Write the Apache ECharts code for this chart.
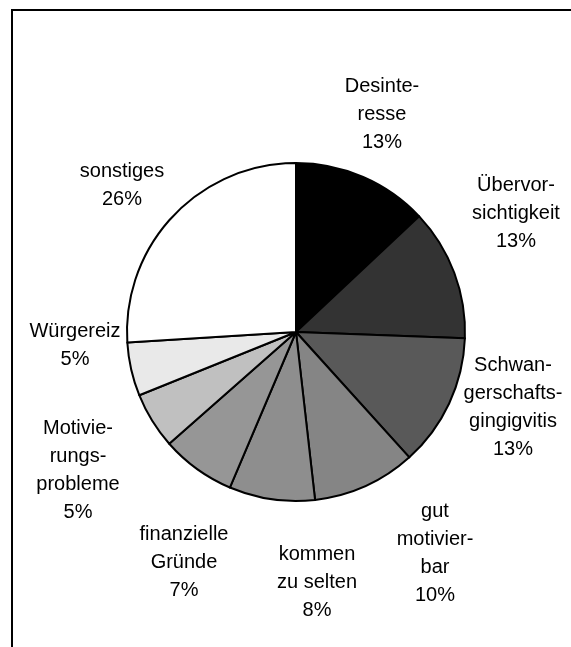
<!DOCTYPE html>
<html>
<head>
<meta charset="utf-8">
<script src="https://cdn.jsdelivr.net/npm/echarts@6/dist/echarts.min.js"></script>
<style>
  html, body { margin: 0; padding: 0; background: #fff; overflow: hidden; }
  #frame { position: absolute; left: 11px; top: 9px; width: 600px; height: 700px; border: 2px solid #000; }
  #chart { position: absolute; left: 0; top: 0; width: 571px; height: 647px; }
</style>
</head>
<body>
<div id="frame"></div>
<div id="chart"></div>
<script>
// Gründe, ab 12 Uhr im Uhrzeigersinn
const categories = [
  'Desinte-\nresse',
  'Übervor-\nsichtigkeit',
  'Schwan-\ngerschafts-\ngingigvitis',
  'gut\nmotivier-\nbar',
  'kommen\nzu selten',
  'finanzielle\nGründe',
  'Motivie-\nrungs-\nprobleme',
  'Würgereiz',
  'sonstiges'
]
const shares = [13.0, 12.6, 12.7, 9.9, 8.2, 7.1, 5.4, 5.1, 26.0]
const sliceColors = ['#000000', '#333333', '#595959', '#858585', '#8e8e8e', '#969696', '#c0c0c0', '#e9e9e9', '#ffffff']

// Mittelpunkte der Beschriftungen (wie im Original frei platziert)
const labelPos = [
  [382, 114], [516, 213], [513, 407], [435, 553], [317, 582],
  [184, 562], [78, 470], [75, 345], [122, 185]
]

const chart = echarts.init(document.getElementById('chart'))

chart.setOption({
  animation: false,
  series: [
    {
      type: 'pie',
      center: [296, 332],
      radius: 169,
      startAngle: 90,
      clockwise: true,
      avoidLabelOverlap: false,
      data: categories.map((name, i) => ({
        name: name,
        value: shares[i],
        itemStyle: { color: sliceColors[i] }
      })),
      itemStyle: {
        borderColor: '#000',
        borderWidth: 2
      },
      label: {
        show: true,
        position: 'outside',
        formatter: p => p.name + '\n' + Math.round(p.percent) + '%',
        fontFamily: 'Liberation Sans, Arial, sans-serif',
        fontSize: 20,
        lineHeight: 28,
        color: '#000',
        align: 'center'
      },
      labelLine: { show: false },
      labelLayout: params => ({
        x: labelPos[params.dataIndex][0],
        y: labelPos[params.dataIndex][1],
        align: 'center',
        verticalAlign: 'middle'
      }),
      emphasis: { disabled: true }
    }
  ]
})
</script>
</body>
</html>
